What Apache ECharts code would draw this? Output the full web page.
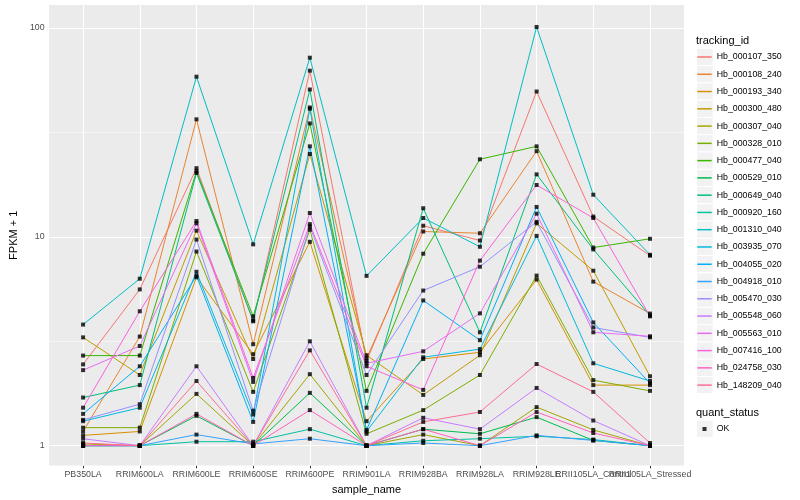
<!DOCTYPE html>
<html>
<head>
<meta charset="utf-8">
<script src="https://cdn.jsdelivr.net/npm/echarts@6/dist/echarts.min.js"></script>
<style>html,body{margin:0;padding:0;background:#fff}#c{width:800px;height:500px}</style>
</head>
<body>
<div id="c"></div>
<script>
var samples = ["PB350LA","RRIM600LA","RRIM600LE","RRIM600SE","RRIM600PE","RRIM901LA","RRIM928BA","RRIM928LA","RRIM928LE","RRII105LA_Control","RRII105LA_Stressed"];
var yTicks = [1, 10, 100];
var trackingIds = ["Hb_000107_350","Hb_000108_240","Hb_000193_340","Hb_000300_480","Hb_000307_040","Hb_000328_010","Hb_000477_040","Hb_000529_010","Hb_000649_040","Hb_000920_160","Hb_001310_040","Hb_003935_070","Hb_004055_020","Hb_004918_010","Hb_005470_030","Hb_005548_060","Hb_005563_010","Hb_007416_100","Hb_024758_030","Hb_148209_040"];
var colors = ["#F8766D","#EA8331","#D89000","#C09B00","#A3A500","#7CAE00","#39B600","#00BB4E","#00BF7D","#00C1A3","#00BFC4","#00BAE0","#00B0F6","#35A2FF","#9590FF","#C77CFF","#E76BF3","#FA62DB","#FF62BC","#FF6C91"];

var hb_000107_350 = [2.45, 5.6, 21.3, 3.94, 62.4, 2.54, 11.3, 9.6, 49.6, 12.5, 8.12];
var hb_000108_240 = [1.17, 3.33, 36.5, 3.06, 41.6, 2.62, 10.6, 10.4, 25.7, 6.1, 4.29];
var hb_000193_340 = [1.12, 1.17, 6.4, 2.74, 9.46, 1.31, 2.6, 2.8, 6.24, 1.95, 1.95];
var hb_000300_480 = [3.3, 2.18, 10.7, 2.6, 24.9, 2.71, 1.75, 2.71, 11.6, 6.88, 2.15];
var hb_000307_040 = [1.02, 1, 1.77, 1, 2.2, 1, 1.13, 1, 1.53, 1.19, 1];
var hb_000328_010 = [1.22, 1.22, 8.5, 1.81, 10.8, 1.14, 1.48, 2.18, 6.52, 2.06, 1.83];
var hb_000477_040 = [2.7, 2.7, 20.6, 4.16, 34.9, 1.83, 8.3, 23.5, 27.1, 8.88, 9.78];
var hb_000529_010 = [1, 1, 1.39, 1, 1.79, 1, 1.2, 1.14, 1.37, 1.06, 1];
var hb_000649_040 = [1.7, 1.95, 20.2, 3.98, 50.7, 1.52, 13.7, 3.49, 19.9, 8.7, 4.2];
var hb_000920_160 = [1, 1, 1.045, 1.045, 1.2, 1, 1.056, 1.08, 1.11, 1.07, 1];
var hb_001310_040 = [3.8, 6.3, 58.4, 9.2, 72, 6.5, 12.3, 8.96, 101, 15.9, 8.2];
var hb_003935_070 = [1.31, 1.52, 6.8, 1.41, 41, 1.17, 2.65, 2.9, 10.1, 2.48, 2.04];
var hb_004055_020 = [1.42, 2.4, 6.5, 1.3, 27.1, 1.19, 4.96, 3.2, 13.9, 3.89, 1.99];
var hb_004918_010 = [1, 1, 1.13, 1.02, 1.08, 1, 1.03, 1, 1.12, 1.06, 1];
var hb_005470_030 = [1.33, 1.58, 9.7, 1.47, 11.2, 2.18, 5.53, 7.19, 11.8, 3.68, 3.3];
var hb_005548_060 = [1.08, 1, 2.4, 1, 3.16, 1, 1.36, 1.2, 1.89, 1.32, 1];
var hb_005563_010 = [2.3, 3.0, 11.6, 2.02, 13.0, 2.48, 2.83, 4.3, 12.9, 3.49, 3.34];
var hb_007416_100 = [1.52, 4.4, 11.9, 2.11, 11.5, 2.4, 1.85, 7.69, 17.7, 12.3, 4.16];
var hb_024758_030 = [1, 1, 1.42, 1, 1.48, 1, 1.2, 1, 1.45, 1.15, 1];
var hb_148209_040 = [1.03, 1, 2.04, 1, 2.86, 1, 1.3, 1.45, 2.46, 1.81, 1.03];

var seriesValues = [hb_000107_350, hb_000108_240, hb_000193_340, hb_000300_480, hb_000307_040, hb_000328_010, hb_000477_040, hb_000529_010, hb_000649_040, hb_000920_160, hb_001310_040, hb_003935_070, hb_004055_020, hb_004918_010, hb_005470_030, hb_005548_060, hb_005563_010, hb_007416_100, hb_024758_030, hb_148209_040];

var FONT = "'Liberation Sans', Arial, sans-serif";
var chart = echarts.init(document.getElementById('c'), null, {renderer: 'canvas'});

var series = [];
var gridMarks = [];
samples.forEach(function (s, i) { gridMarks.push({xAxis: i}); });
yTicks.forEach(function (t) { gridMarks.push({yAxis: t}); });
[3.16228, 31.6228].forEach(function (t) { gridMarks.push({yAxis: t, lineStyle: {width: 0.5}}); });
series.push({
  name: '_grid', type: 'line', data: [], z: 1, silent: true,
  markLine: {
    silent: true, z: 1, symbol: ['none', 'none'], label: {show: false},
    lineStyle: {color: '#ffffff', width: 1.1, type: 'solid'},
    emphasis: {disabled: true},
    data: gridMarks, animation: false
  }
});
var pts = [];
trackingIds.forEach(function (id, k) {
  var d = seriesValues[k].map(function (v, i) { return [i, v]; });
  d.forEach(function (p) { pts.push(p); });
  series.push({
    name: id, type: 'line', data: d, z: 2, showSymbol: false, symbol: 'none',
    lineStyle: {color: colors[k], width: 1}, itemStyle: {color: colors[k]},
    emphasis: {disabled: true}
  });
});
series.push({
  name: 'OK', type: 'scatter', data: pts, z: 3, symbol: 'rect', symbolSize: 4,
  itemStyle: {color: '#000000'}, emphasis: {disabled: true}
});

var boxes = [];
for (var i = 0; i < 20; i++) {
  boxes.push({type: 'rect', z: 0, silent: true,
    shape: {x: 696.7, y: 57 + i * 17.27 - 8.63, width: 16.5, height: 17.27},
    style: {fill: '#F2F2F2', stroke: '#ffffff', lineWidth: 1}});
}
boxes.push({type: 'rect', z: 0, silent: true,
  shape: {x: 696.7, y: 429 - 8.63, width: 16.5, height: 17.27},
  style: {fill: '#F2F2F2', stroke: '#ffffff', lineWidth: 1}});

var evenIdx = [], oddIdx = [];
samples.forEach(function (s, i) { (i % 2 === 0 ? evenIdx : oddIdx).push(i); });

function xAxisDef(vals, withName) {
  var ax = {
    type: 'value', min: -0.6, max: 10.6, position: 'bottom', offset: 0,
    axisLine: {show: false},
    axisTick: {show: true, length: 2.7, lineStyle: {color: '#333333', width: 1}, customValues: vals},
    axisLabel: {color: '#4D4D4D', fontSize: 8.8, fontFamily: FONT, margin: 4.5, customValues: vals,
      hideOverlap: false, showMinLabel: true, showMaxLabel: true,
      formatter: function (v) { return samples[Math.round(v)] || ''; }},
    splitLine: {show: false}
  };
  if (withName) {
    ax.name = 'sample_name'; ax.nameLocation = 'middle'; ax.nameGap = 14;
    ax.nameTextStyle = {color: '#000', fontSize: 11, fontFamily: FONT};
  }
  return ax;
}

chart.setOption({
  animation: false,
  backgroundColor: '#ffffff',
  textStyle: {fontFamily: FONT},
  grid: {left: 40, top: 5, width: 644, height: 463, show: true, backgroundColor: '#EBEBEB', borderWidth: 0},
  xAxis: [xAxisDef(evenIdx, true), xAxisDef(oddIdx, false)],
  yAxis: {
    type: 'log', logBase: 10, min: 0.803, max: 128.7,
    name: 'FPKM + 1', nameLocation: 'middle', nameGap: 22, nameRotate: 90,
    nameTextStyle: {color: '#000', fontSize: 11, fontFamily: FONT},
    axisLine: {show: false},
    axisTick: {show: true, length: 2.7, lineStyle: {color: '#333333', width: 1}, customValues: yTicks},
    axisLabel: {color: '#4D4D4D', fontSize: 8.8, fontFamily: FONT, margin: 4.5, customValues: yTicks,
      formatter: function (v) { return String(Math.round(v)); }},
    splitLine: {show: false}, minorSplitLine: {show: false}
  },
  title: [
    {text: 'tracking_id', left: 696, top: 35, padding: 0, textStyle: {fontSize: 11, fontWeight: 'normal', color: '#000', fontFamily: FONT}},
    {text: 'quant_status', left: 696, top: 407, padding: 0, textStyle: {fontSize: 11, fontWeight: 'normal', color: '#000', fontFamily: FONT}}
  ],
  legend: [
    {orient: 'vertical', left: 697.3, top: 51, padding: 0, itemWidth: 14.4, itemHeight: 1.5, itemGap: 5.27, icon: 'rect',
      selectedMode: false,
      data: trackingIds.map(function (id, k) { return {name: id, itemStyle: {color: colors[k]}}; }),
      textStyle: {fontSize: 8.8, color: '#000', lineHeight: 12, fontFamily: FONT}},
    {orient: 'vertical', left: 697.3, top: 423, padding: 0, itemWidth: 14.4, itemHeight: 12,
      icon: 'path://M0,0M144,120M52,40L92,40L92,80L52,80Z',
      selectedMode: false, data: ['OK'], itemStyle: {color: '#000'},
      textStyle: {fontSize: 8.8, color: '#000', lineHeight: 12, fontFamily: FONT}}
  ],
  graphic: boxes,
  series: series
});
</script>
</body>
</html>
